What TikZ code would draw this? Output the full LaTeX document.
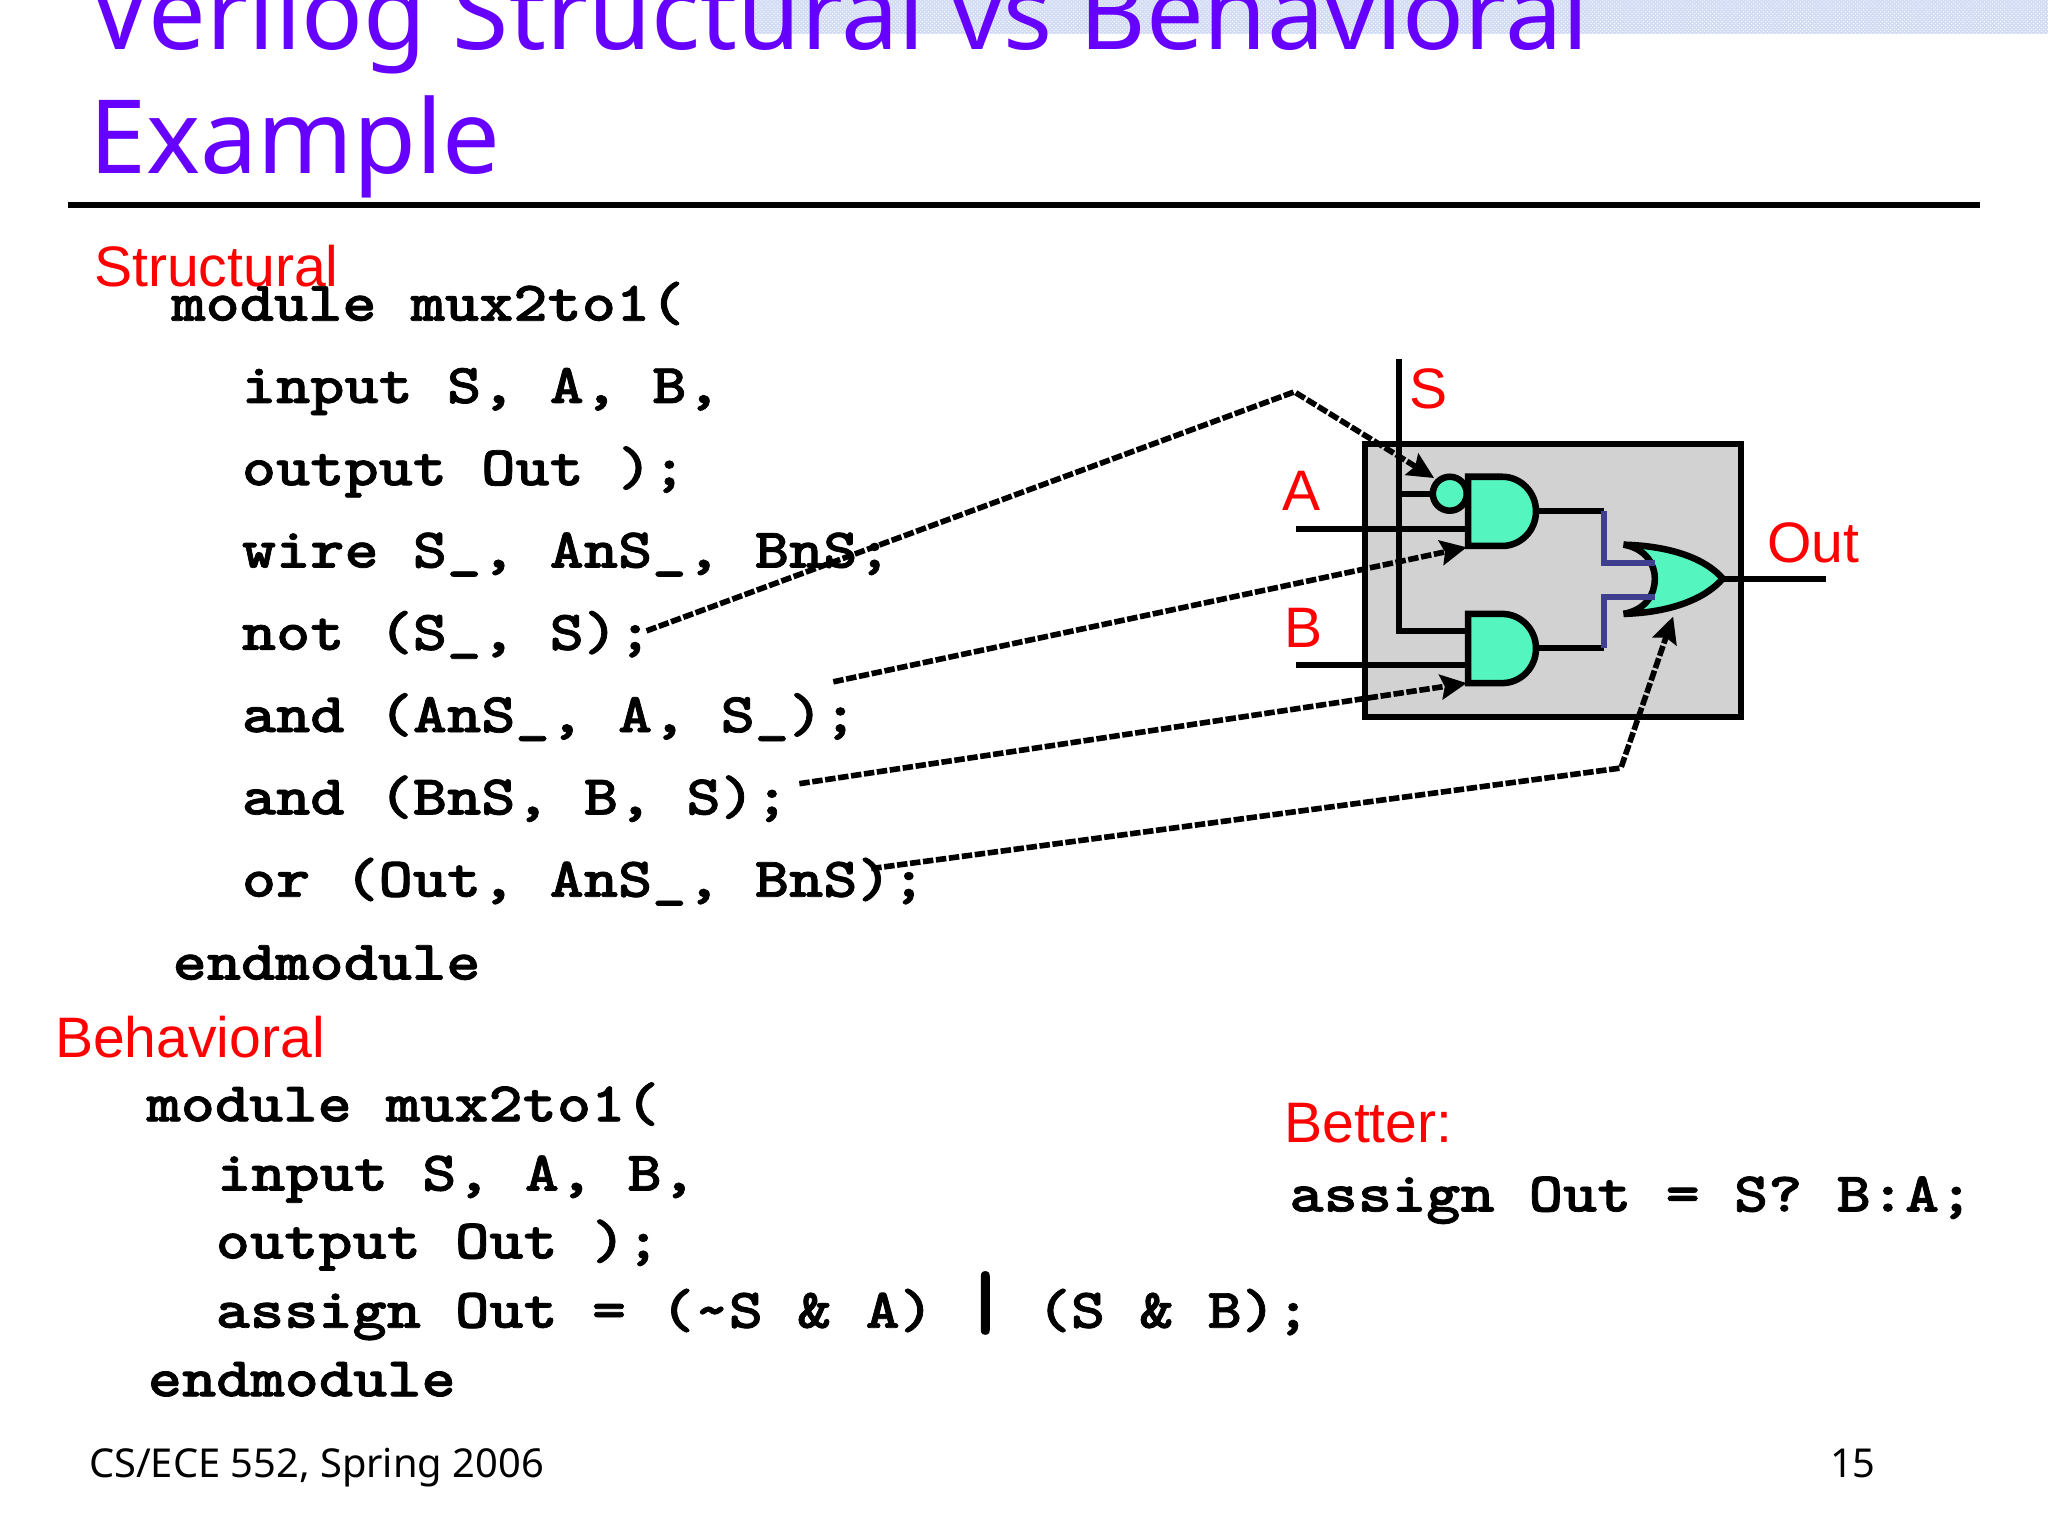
\documentclass[tikz,border=0pt]{standalone}
\usepackage{fontspec}
\usetikzlibrary{arrows.meta,patterns}
\setmainfont{Noto Sans}
\newfontfamily\arialf{Liberation Sans}
\newfontfamily\codef[FakeStretch=1.16,FakeBold=1.3]{lmmonolt10-bold.otf}
\definecolor{titlec}{HTML}{6600FF}
\definecolor{gatec}{HTML}{55F5C0}
\definecolor{boxc}{HTML}{D2D2D2}
\definecolor{wirec}{HTML}{3F3F8F}
\definecolor{bandc}{HTML}{D3DCF5}
\newcommand{\bigbar}{\makebox[26.2pt]{\fontsize{62}{62}\selectfont|}}
\tikzset{
 titletext/.style={anchor=base west,inner sep=0pt,text=titlec,font=\fontsize{78.4}{80}\selectfont},
 redtext/.style={anchor=base west,inner sep=0pt,text=red,font=\arialf\fontsize{43.7}{44}\selectfont},
 codetext/.style={anchor=base west,inner sep=0pt,font=\codef\fontsize{43}{50}\selectfont},
 foot/.style={anchor=base west,inner sep=0pt,font=\fontsize{30.5}{32}\selectfont},
 wire/.style={line width=4.6pt,black},
 bluewire/.style={line width=4.5pt,wirec},
 gate/.style={line width=5pt,draw=black,fill=gatec},
 callout/.style={line width=4.3pt,dash pattern=on 8pt off 2pt,-{Stealth[length=20pt,width=19pt,inset=3pt]},line join=round},
}
\begin{document}
\begin{tikzpicture}[x=1pt,y=-1pt]
\useasboundingbox (0,0) rectangle (1568,1176);
\clip (0,0) rectangle (1568,1176);
\fill[bandc] (578,0) rectangle (1568,26);
\fill[pattern=crosshatch dots,pattern color=white] (578,0) rectangle (1568,26);
\node[titletext] (t1) at (68,38) {Verilog Structural vs Behavioral};
\node[titletext] (t2) at (68,133) {Example};
\draw[line width=4pt] (52,157) -- (1516,157);
% diagram
\draw[line width=4.6pt,fill=boxc] (1045,340) rectangle (1333,549);
\draw[wire,line join=miter] (1071,275) -- (1071,483) -- (1124,483);
\draw[wire] (1071,378) -- (1097,378);
\draw[wire] (992,405) -- (1124,405);
\draw[wire] (992,509) -- (1124,509);
\draw[wire] (1177,391) -- (1228,391);
\draw[wire] (1177,496) -- (1228,496);
\draw[wire] (1318,443) -- (1398,443);
\path[gate] (1124,365) -- (1150,365) arc[start angle=90,end angle=-90,x radius=26,y radius=-26.5] -- (1124,418) -- cycle;
\path[gate] (1124,470) -- (1150,470) arc[start angle=90,end angle=-90,x radius=26,y radius=-26.5] -- (1124,523) -- cycle;
\path[gate] (1110,378) circle[radius=13];
\fill[gatec] (1243,417) .. controls (1280,418) and (1306,428) .. (1319,443) .. controls (1306,458) and (1280,469) .. (1243,470) .. controls (1260,467) and (1267,455) .. (1267,443) .. controls (1267,432) and (1260,420) .. (1243,417);
\draw[line width=5pt] (1243,417) .. controls (1280,418) and (1306,428) .. (1319,443) .. controls (1306,458) and (1280,469) .. (1243,470);
\draw[line width=5pt] (1243,417) .. controls (1260,420) and (1267,432) .. (1267,443) .. controls (1267,455) and (1260,467) .. (1243,470);
\draw[bluewire] (1228,391) -- (1228,431) -- (1267,431);
\draw[bluewire] (1228,496) -- (1228,457) -- (1267,457);
% labels
\node[redtext] (ls) at (1079,313) {S};
\node[redtext] (la) at (982,391) {A};
\node[redtext] (lb) at (983,496) {B};
\node[redtext] (lo) at (1353,431) {Out};
\node[redtext] (l1) at (72,219) {Structural};
\node[redtext] (l2) at (42,810) {Behavioral};
\node[redtext] (l3) at (983,875) {Better:};
% code
\node[codetext] (c1) at (131,245.5) {module mux2to1(};
\node[codetext] (c2) at (185,308.5) {input S, A, B,};
\node[codetext] (c3) at (185,371.5) {output Out );};
\node[codetext] (c4) at (185,434.5) {wire S\_, AnS\_, BnS;};
\node[codetext] (c5) at (185,497.5) {not (S\_, S);};
\node[codetext] (c6) at (185,560.5) {and (AnS\_, A, S\_);};
\node[codetext] (c7) at (185,623.5) {and (BnS, B, S);};
\node[codetext] (c8) at (185,686.5) {or (Out, AnS\_, BnS);};
\node[codetext] (c9) at (132,750) {endmodule};
\node[codetext] (d1) at (112,858.5) {module mux2to1(};
\node[codetext] (d2) at (166,911.5) {input S, A, B,};
\node[codetext] (d3) at (165,963.5) {output Out );};
\node[codetext] (d4) at (165,1016.5) {assign Out = (\string~S \& A) \bigbar{} (S \& B);};
\node[codetext] (d5) at (113,1069) {endmodule};
\node[codetext] (e1) at (987,927.5) {assign Out = S? B:A;};
% callouts
\coordinate (a1) at (495,483); \coordinate (a1m) at (991,300); \coordinate (a1e) at (1098,366);
\coordinate (a2) at (638,522); \coordinate (a2e) at (1123,419);
\coordinate (a3) at (612,600); \coordinate (a3e) at (1123,523);
\coordinate (a4) at (667,665); \coordinate (a4m) at (1241,588); \coordinate (a4e) at (1281,472);
\draw[callout] (a1) -- (a1m) -- (a1e);
\draw[callout] (a2) -- (a2e);
\draw[callout] (a3) -- (a3e);
\draw[callout] (a4) -- (a4m) -- (a4e);
% footer
\node[foot] (f1) at (68,1131) {CS/ECE 552, Spring 2006};
\node[foot] (f2) at (1401,1131) {15};
\end{tikzpicture}
\end{document}
